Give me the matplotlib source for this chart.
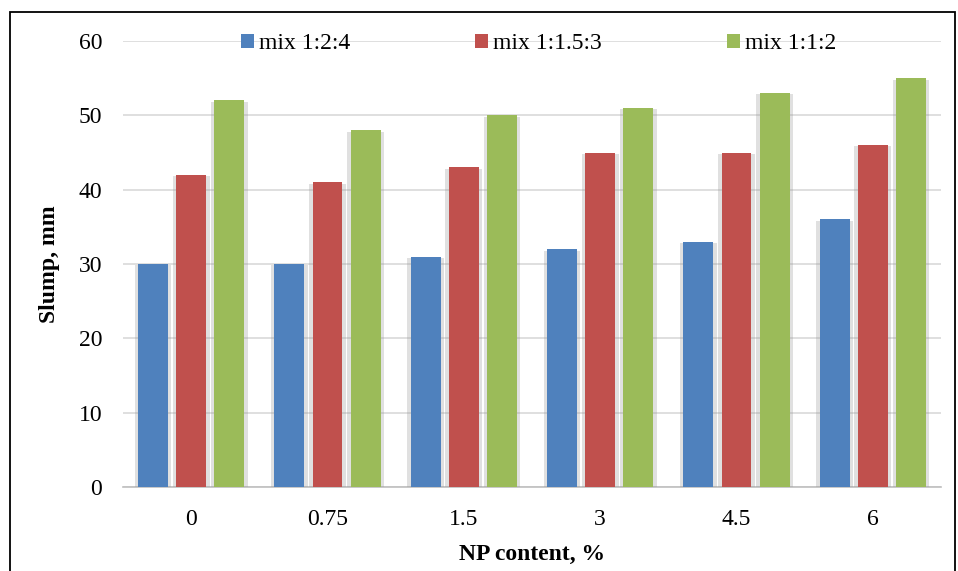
import numpy as np
import matplotlib.pyplot as plt
import matplotlib.patheffects as pe
from matplotlib.patches import Rectangle

categories = ["0", "0.75", "1.5", "3", "4.5", "6"]
mix_124 = [30, 30, 31, 32, 33, 36]
mix_1153 = [42, 41, 43, 45, 45, 46]
mix_112 = [52, 48, 50, 51, 53, 55]
series_names = ["mix 1:2:4", "mix 1:1.5:3", "mix 1:1:2"]
colors = ["#4F81BD", "#C0504D", "#9BBB59"]

plt.rcParams["font.family"] = ["Liberation Serif", "DejaVu Serif"]

fig = plt.figure(figsize=(9.58, 5.71), dpi=100)
ax = fig.add_axes([123 / 958, 84 / 571, 818 / 958, 446 / 571])

x = np.arange(len(categories))
width = 0.22
offset = 0.28
shadow = [pe.SimplePatchShadow(offset=(2.5, -1), shadow_rgbFace="#999999", alpha=0.3),
          pe.SimplePatchShadow(offset=(-2.5, -1), shadow_rgbFace="#999999", alpha=0.3),
          pe.Normal()]
for i, (vals, name, c) in enumerate(zip([mix_124, mix_1153, mix_112], series_names, colors)):
    bars = ax.bar(x + (i - 1) * offset, vals, width, color=c, label=name, zorder=3)
    for b in bars:
        b.set_path_effects(shadow)

ax.set_xlim(-0.5, len(categories) - 0.5)
ax.set_ylim(0, 60)
ax.set_yticks(range(0, 61, 10))
ax.set_xticks(x)
ax.set_xticklabels(categories)
ax.grid(axis="y", color="#D9D9D9", linewidth=1.2, zorder=0)
ax.tick_params(axis="both", length=0, labelsize=17)
ax.tick_params(axis="x", pad=16)
ax.tick_params(axis="y", pad=15)
for s in ["left", "right", "top"]:
    ax.spines[s].set_visible(False)
ax.spines["bottom"].set_color("#BFBFBF")
ax.spines["bottom"].set_linewidth(1.2)

ax.set_ylabel("Slump, mm", fontsize=17, fontweight="bold", labelpad=13)
ax.set_xlabel("NP content, %", fontsize=17, fontweight="bold", labelpad=10)

leg = ax.legend(loc="upper center", bbox_to_anchor=(0.508, 1.065), ncol=3, frameon=False,
                fontsize=17, handlelength=0.55, handleheight=0.55, handletextpad=0.2,
                columnspacing=5.3)
for h in leg.legend_handles:
    h.set_path_effects([])

fig.patches.append(Rectangle((10 / 958, -0.05), 945 / 958, 1.05 - 12 / 571,
                             transform=fig.transFigure, fill=False,
                             edgecolor="black", linewidth=1.3))

fig.savefig("out.png", dpi=100)
